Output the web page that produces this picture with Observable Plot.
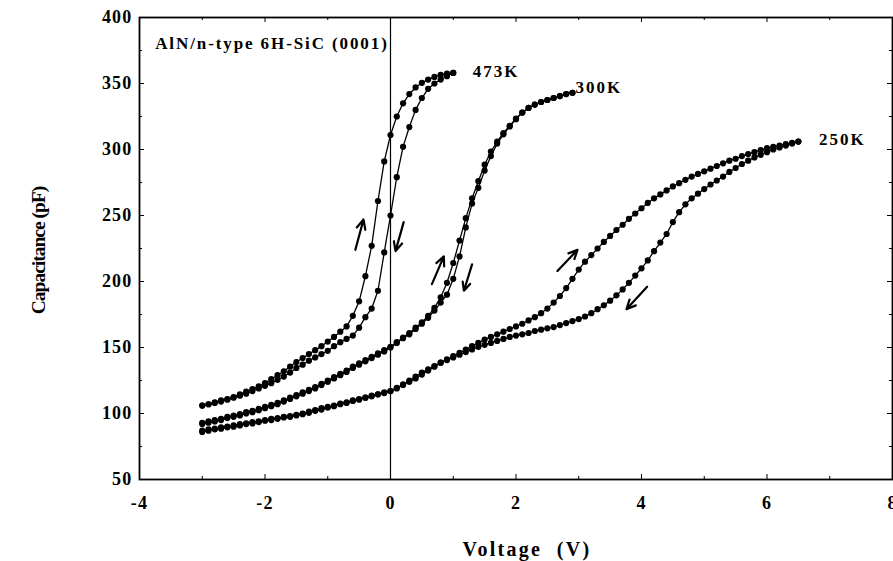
<!DOCTYPE html>
<html>
<head>
<meta charset="utf-8">
<script src="https://cdn.jsdelivr.net/npm/d3@7"></script>
<script src="https://cdn.jsdelivr.net/npm/@observablehq/plot@0.6"></script>
<style>
  body { margin: 0; background: #fff; }
  #chart svg { display: block; }
</style>
</head>
<body>
<div id="chart"></div>
<script>
// ---- Sweep settings (bias sweep in volts) ----
const sweepStep = 0.1;
const sweepStart = -3.0;

// ---- Capacitance (pF), one value per sweep step ----
// 473K : -3.0 V ... 1.0 V
const c473Up = [106,107,108.5,110,111,112.5,114.5,116.5,118.5,120.5,
  123,126,129,132,135.5,139,142,145,148,151,
  154.5,158,162,166,174,185,204,227,261,291,
  311,325,335,342,347,350.5,353,355,356.5,357.5,358];
const c473Down = [106,107,108,109,110.5,112,113.5,115,117,119,
  121,123,125.5,128,131,134.5,137,140,142.5,145,
  147.5,151,154,156.5,159,165,173,179.5,193,222,
  250,279,302,317,330,339,346,350,353,355.5,358];

// 300K : -3.0 V ... 2.9 V
const c300Up = [93,94,95,96,97.5,98.5,99.5,101,102,103.5,
  105,106.5,108,110,112,114,116,118,120,122.5,
  125,127.5,130,132.5,135.5,138,140.5,143,145.5,148,
  150.5,154,157.5,161,165,169,174,180,188,199,
  214,231,248,263,276,288.5,298.5,306,312.5,318,
  323.5,328,331.5,334,336,337.5,339,340.5,342,343];
const c300Down = [92,93,94,95,96.5,97.5,98.5,100,101,102.5,
  104,105.5,107,109,111,113,115,117,119,121.5,
  124,126.5,129,131.5,134.5,137,139.5,142,144.5,147,
  150,153.5,157,160,164,168,172.5,178,184,190,
  202,219,241,259,271,284,295,304.5,311.5,317.5,
  323,328,331.5,334,336,337.5,339,340.5,342,343];

// 250K : -3.0 V ... 6.5 V
const c250Up = [87,88,88.5,89.5,90,91,92,92.5,93.5,94,
  95,96,96.5,97.5,98,99,100,101.5,102.5,104,
  105,106,107.5,108.5,110,111,112,113.5,114.5,116,
  117,119,121.5,124,126.5,129.5,132.5,135.5,138.5,141,
  143.5,146,148.5,151,153.5,156,158,160,162,164,
  166,168,170.5,173,176,179.5,184,189,195,202,
  209,215,220,225,230,234.5,239,243,247.5,251.5,
  255.5,259.5,263,266,269,272,274.5,277,279.5,281.5,
  283.5,285.5,287.5,289.5,291.5,293,295,296.5,298,299.5,
  301,302,303,304,305,306];
const c250Down = [86,87,88,88.5,89.5,90,91,92,92.5,93.5,
  94.5,95,96,97,97.5,98.5,99.5,100.5,102,103,
  104.5,105.5,107,108,109.5,110.5,112,113,114.5,115.5,
  117,119.5,122,125,128,131,133.5,136,138.5,140.5,
  142.5,144.5,146.5,148.5,150.5,152,153.5,155,156.5,158,
  159,160,161,162.5,163.5,164.5,165.5,167,168.5,170,
  171.5,173.5,176,179,182,185.5,189.5,194,199,204.5,
  210,216,223,229.5,236,245,252.5,258.5,263,266.5,
  270,273.5,276.5,279.5,283,286,289,291.5,294,296,
  298,300,301.5,303,304.5,306];

// ---- Loop labels ----
const loopNames = ["473K", "300K", "250K"];
const loopLabelV = [1.31, 2.95, 6.83];
const loopLabelC = [359, 347, 307.5];

// ---- Sweep-direction arrows (V, pF) ----
const arrowV1 = [-0.56, 0.21, 0.66, 1.30, 2.66, 4.09];
const arrowC1 = [224, 245, 198, 213, 208, 196];
const arrowV2 = [-0.43, 0.08, 0.85, 1.17, 2.98, 3.76];
const arrowC2 = [247, 223, 219, 193, 224, 179];

// ---- Annotation ----
const sampleText = "AlN/n-type 6H-SiC (0001)";
const sampleV = -3.75;
const sampleC = 380;

// ---- Axes ----
const xDomain = [-4, 8];
const yDomain = [50, 400];
const xTickLabels = [-4, -2, 0, 2, 4, 6, 8];
const xMinorTicks = [-3, -1, 1, 3, 5, 7];
const yTickLabels = [50, 100, 150, 200, 250, 300, 350, 400];
const yMinorTicks = [75, 125, 175, 225, 275, 325, 375];
const xTitle = "Voltage  (V)";
const yTitle = "Capacitance (pF)";

// ---- Build table ----
function branch(loop, dir, values) {
  return values.map((c, i) => ({loop, dir, v: +(sweepStart + i * sweepStep).toFixed(2), c}));
}
const points = [
  ...branch("473K", "up", c473Up), ...branch("473K", "down", c473Down),
  ...branch("300K", "up", c300Up), ...branch("300K", "down", c300Down),
  ...branch("250K", "up", c250Up), ...branch("250K", "down", c250Down)
];
const labels = loopNames.map((name, i) => ({name, v: loopLabelV[i], c: loopLabelC[i]}));
const arrows = arrowV1.map((v, i) => ({v1: v, c1: arrowC1[i], v2: arrowV2[i], c2: arrowC2[i]}));

const serif = "'Liberation Serif', 'Times New Roman', serif";

const plot = Plot.plot({
  width: 893,
  height: 561,
  marginLeft: 139,
  marginRight: 1,
  marginTop: 17,
  marginBottom: 82,
  x: {domain: xDomain, label: null},
  y: {domain: yDomain, label: null},
  style: {fontFamily: serif, fontWeight: "bold", background: "white", color: "black"},
  marks: [
    // tick marks (inward), bottom/top/left/right
    Plot.ruleX(xTickLabels, {x: d => d, y1: yDomain[0], y2: yDomain[0], insetBottom: 5, stroke: "black"}),
    Plot.ruleX(xMinorTicks, {x: d => d, y1: yDomain[0], y2: yDomain[0], insetBottom: 3, stroke: "black"}),
    Plot.ruleX(xTickLabels, {x: d => d, y1: yDomain[1], y2: yDomain[1], insetTop: 5, stroke: "black"}),
    Plot.ruleX(xMinorTicks, {x: d => d, y1: yDomain[1], y2: yDomain[1], insetTop: 3, stroke: "black"}),
    Plot.ruleY(yTickLabels, {y: d => d, x1: xDomain[0], x2: xDomain[0], insetLeft: 5, stroke: "black"}),
    Plot.ruleY(yMinorTicks, {y: d => d, x1: xDomain[0], x2: xDomain[0], insetLeft: 3, stroke: "black"}),
    Plot.ruleY(yTickLabels, {y: d => d, x1: xDomain[1], x2: xDomain[1], insetRight: 5, stroke: "black"}),
    Plot.ruleY(yMinorTicks, {y: d => d, x1: xDomain[1], x2: xDomain[1], insetRight: 3, stroke: "black"}),
    Plot.frame({stroke: "black", strokeWidth: 1.8}),
    Plot.ruleX([0], {stroke: "black", strokeWidth: 1.2}),
    Plot.axisX({ticks: xTickLabels, tickSize: 0, tickPadding: 17, fontSize: 18, fontWeight: "bold",
                tickFormat: d => String(d), label: null}),
    Plot.axisY({ticks: yTickLabels, tickSize: 0, tickPadding: 7, fontSize: 18, fontWeight: "bold",
                tickFormat: d => String(d), label: null}),
    Plot.line(points, {x: "v", y: "c", z: d => d.loop + d.dir, stroke: "black", strokeWidth: 1.3}),
    Plot.dot(points, {x: "v", y: "c", r: 3.1, fill: "black", stroke: "none"}),
    Plot.arrow(arrows, {x1: "v1", y1: "c1", x2: "v2", y2: "c2", stroke: "black", strokeWidth: 2.2,
                        headLength: 9, headAngle: 50}),
    Plot.text(labels, {x: "v", y: "c", text: "name", textAnchor: "start", fontSize: 17, fontWeight: "bold", fill: "black"}),
    Plot.text([sampleText], {x: () => sampleV, y: () => sampleC, text: d => d, textAnchor: "start",
                             fontSize: 17, fontWeight: "bold", fill: "black"}),
    Plot.text([xTitle], {frameAnchor: "bottom", text: d => d, textAnchor: "middle", lineAnchor: "middle",
                         dx: 11, dy: 70, fontSize: 20, fontWeight: "bold", fill: "black"}),
    Plot.text([yTitle], {frameAnchor: "left", text: d => d, textAnchor: "middle", lineAnchor: "middle",
                         rotate: -90, dx: -101, dy: 2, fontSize: 19.5, fontWeight: "bold", fill: "black"})
  ]
});

document.getElementById("chart").appendChild(plot);

// adjust glyph spacing to match the scanned figure's proportions
d3.select(plot).selectAll("text").each(function () {
  const t = d3.select(this);
  const g = this.parentNode && this.parentNode.getAttribute("aria-label") || "";
  const s = t.text();
  let ls = 2;
  if (g.includes("tick label")) ls = 1.2;
  else if (s === yTitle) ls = -1;
  else if (s === xTitle) ls = 2.3;
  else if (s === sampleText) ls = 1.9;
  t.style("letter-spacing", ls + "px");
});
</script>
</body>
</html>
